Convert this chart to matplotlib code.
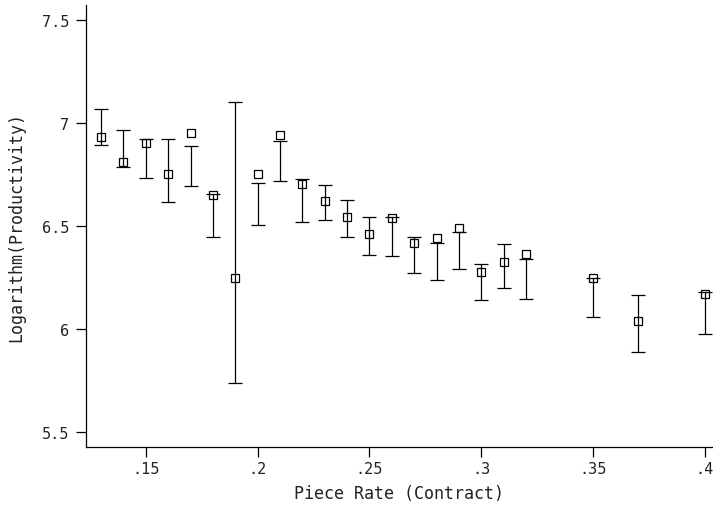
import matplotlib
matplotlib.use("Agg")
import matplotlib.pyplot as plt

# Data
piece_rate = [0.13, 0.14, 0.15, 0.16, 0.17, 0.18, 0.19, 0.20, 0.21, 0.22, 0.23,
              0.24, 0.25, 0.26, 0.27, 0.28, 0.29, 0.30, 0.31, 0.32, 0.35, 0.37, 0.40]
log_prod = [6.930, 6.810, 6.904, 6.754, 6.951, 6.652, 6.248, 6.754, 6.940, 6.702, 6.623,
            6.542, 6.460, 6.540, 6.416, 6.443, 6.489, 6.277, 6.327, 6.364, 6.246, 6.039, 6.171]
ci_upper = [7.068, 6.967, 6.921, 6.924, 6.888, 6.654, 7.103, 6.710, 6.913, 6.727, 6.699,
            6.628, 6.542, 6.544, 6.445, 6.419, 6.469, 6.314, 6.414, 6.341, 6.249, 6.167, 6.181]
ci_lower = [6.893, 6.788, 6.733, 6.618, 6.694, 6.448, 5.739, 6.506, 6.718, 6.519, 6.528,
            6.448, 6.358, 6.356, 6.273, 6.239, 6.291, 6.139, 6.199, 6.144, 6.057, 5.887, 5.976]

x_ticks = [0.15, 0.20, 0.25, 0.30, 0.35, 0.40]
x_tick_labels = [".15", ".2", ".25", ".3", ".35", ".4"]
y_ticks = [5.5, 6.0, 6.5, 7.0, 7.5]
y_tick_labels = ["5.5", "6", "6.5", "7", "7.5"]

font = "DejaVu Sans Mono"
text_color = "#222222"

fig = plt.figure(figsize=(7.13, 5.10), dpi=100)
ax = fig.add_axes([86 / 713, 62 / 510, 627 / 713, 442 / 510])

ax.vlines(piece_rate, ci_lower, ci_upper, color="black", linewidth=0.9)
ax.scatter(piece_rate, ci_upper, marker="_", s=110, color="black", linewidths=0.9)
ax.scatter(piece_rate, ci_lower, marker="_", s=110, color="black", linewidths=0.9)
ax.plot(piece_rate, log_prod, linestyle="none", marker="s", markersize=5.6,
        markerfacecolor="none", markeredgecolor="black", markeredgewidth=0.9)

ax.set_xlim(0.12327, 0.40358)
ax.set_ylim(5.427, 7.573)

ax.set_xticks(x_ticks)
ax.set_xticklabels(x_tick_labels, fontsize=11, family=font, color=text_color)
ax.set_yticks(y_ticks)
ax.set_yticklabels(y_tick_labels, fontsize=11, family=font, color=text_color)
ax.tick_params(axis="x", direction="out", length=7, width=0.9, pad=3)
ax.tick_params(axis="y", direction="out", length=7, width=0.9, pad=5)

for s in ["top", "right"]:
    ax.spines[s].set_visible(False)
for s in ["left", "bottom"]:
    ax.spines[s].set_linewidth(0.9)

ax.set_xlabel("Piece Rate (Contract)", fontsize=12, family=font, labelpad=6, color=text_color)
ax.set_ylabel("Logarithm(Productivity)", fontsize=12, family=font, labelpad=12, color=text_color)

fig.savefig("out.png", dpi=100, facecolor="white")
